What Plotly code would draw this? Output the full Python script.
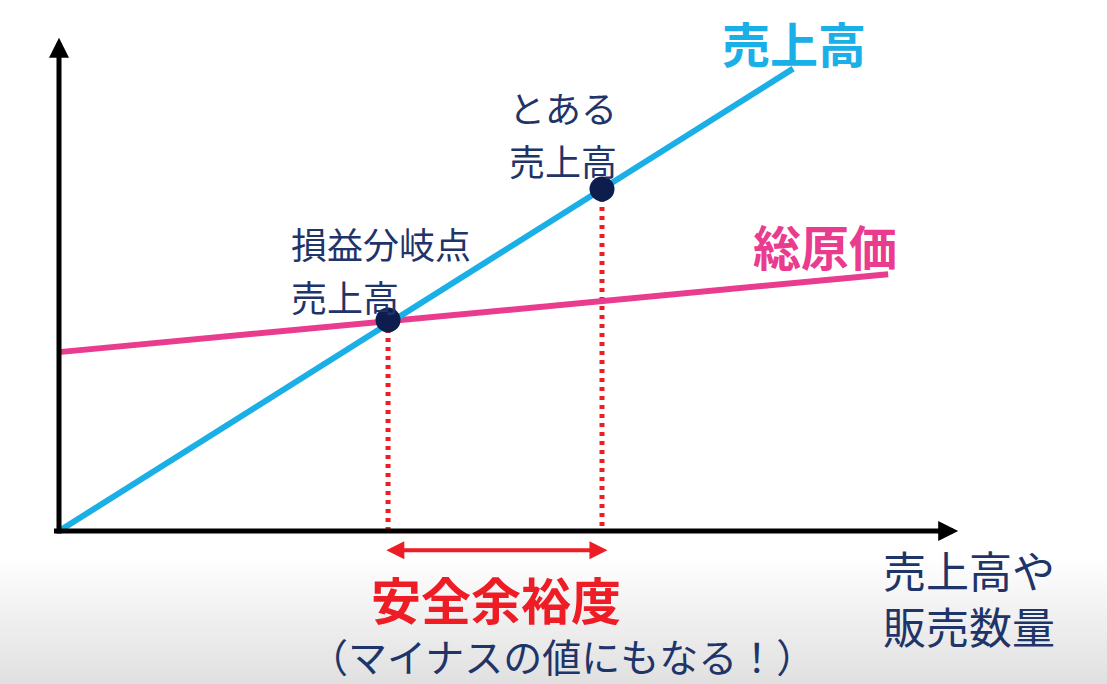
import plotly.graph_objects as go

# ---- data (x = sales quantity, y = amount) ----
sales_q = [0, 135.2]
sales_amt = [0, 135.2]
cost_q = [0, 152.7]
cost_amt = [52.3, 75.1]
bep_q, bep_amt = 60.6, 61.7          # 損益分岐点売上高
some_q, some_amt = 100.0, 100.0      # とある売上高
x_axis_end = 165.6
y_axis_end = 144.2
margin_arrow_y = -5.6

W, H = 1107, 684
X0_PX, Y0_PX = 59, 531
KX, KY = 5.43, 3.42
x_rng = [(0 - X0_PX) / KX, (W - X0_PX) / KX]
y_rng = [(Y0_PX - H) / KY, Y0_PX / KY]

NAVY = "#1f3468"
BLUE = "#1aafe6"
PINK = "#ea3c8f"
RED = "#ee1c24"
FONT = "Noto Sans CJK JP"

fig = go.Figure()

# bottom gray gradient (screenshot background)
fig.add_trace(go.Scatter(
    x=[x_rng[0], x_rng[1], x_rng[1], x_rng[0]],
    y=[y_rng[0], y_rng[0], (Y0_PX - 555) / KY, (Y0_PX - 555) / KY],
    fill="toself", mode="none", hoverinfo="skip",
    fillgradient=dict(type="vertical",
                      colorscale=[[0, "#e0e0e0"], [1, "#ffffff"]]),
    showlegend=False))

# red dotted drop lines
for q, a in [(bep_q, bep_amt), (some_q, some_amt)]:
    fig.add_trace(go.Scatter(x=[q, q], y=[a, 0], mode="lines",
                             line=dict(color=RED, width=5, dash="4px,5px"),
                             hoverinfo="skip", showlegend=False))

# total cost and sales lines
fig.add_trace(go.Scatter(x=cost_q, y=cost_amt, mode="lines",
                         line=dict(color=PINK, width=6), showlegend=False))
fig.add_trace(go.Scatter(x=sales_q, y=sales_amt, mode="lines",
                         line=dict(color=BLUE, width=6), showlegend=False))

# points
fig.add_trace(go.Scatter(x=[bep_q, some_q], y=[bep_amt, some_amt], mode="markers",
                         marker=dict(color="#0d1d4e", size=25), showlegend=False))

ann = []
# axes arrows
ann.append(dict(x=x_axis_end, y=0, ax=-1.2, ay=0, xref="x", yref="y",
                axref="x", ayref="y", showarrow=True, arrowhead=2,
                arrowsize=0.8, arrowwidth=5, arrowcolor="black", text=""))
ann.append(dict(x=0, y=y_axis_end, ax=0, ay=-1.2, xref="x", yref="y",
                axref="x", ayref="y", showarrow=True, arrowhead=2,
                arrowsize=0.8, arrowwidth=5, arrowcolor="black", text=""))
# safety margin double arrow
ann.append(dict(x=some_q + 1, y=margin_arrow_y, ax=bep_q - 0.6, ay=margin_arrow_y,
                xref="x", yref="y", axref="x", ayref="y", showarrow=True,
                arrowhead=2, startarrowhead=2, arrowside="end+start",
                arrowsize=0.9, startarrowsize=0.9, arrowwidth=4,
                arrowcolor=RED, text=""))


def txt(s, px, py, size, color, bold=False, xanchor="center"):
    ann.append(dict(text=f"<b>{s}</b>" if bold else s,
                    x=px / W, y=1 - py / H, xref="paper", yref="paper",
                    xanchor=xanchor, yanchor="middle", showarrow=False,
                    font=dict(family=FONT, size=size, color=color)))


txt("売上高", 794, 42, 48, BLUE, bold=True)
txt("総原価", 825, 245, 48, PINK, bold=True)
txt("とある", 507, 107, 36, NAVY, xanchor="left")
txt("売上高", 507, 160, 36, NAVY, xanchor="left")
txt("損益分岐点", 289, 243, 36, NAVY, xanchor="left")
txt("売上高", 289, 296, 36, NAVY, xanchor="left")
txt("安全余裕度", 496, 598, 50, RED, bold=True)
txt("（マイナスの値にもなる！）", 562, 655, 39, NAVY)
txt("売上高や", 881, 569, 43, NAVY, xanchor="left")
txt("販売数量", 881, 625, 43, NAVY, xanchor="left")

fig.update_layout(
    width=W, height=H, autosize=False,
    margin=dict(l=0, r=0, t=0, b=0),
    paper_bgcolor="white", plot_bgcolor="white",
    xaxis=dict(range=x_rng, visible=False, fixedrange=True),
    yaxis=dict(range=y_rng, visible=False, fixedrange=True),
    annotations=ann,
)

fig.write_html("out.html", config={"displayModeBar": False},
               post_script="document.body.style.margin='0';"
                           "document.body.style.overflow='hidden';")
